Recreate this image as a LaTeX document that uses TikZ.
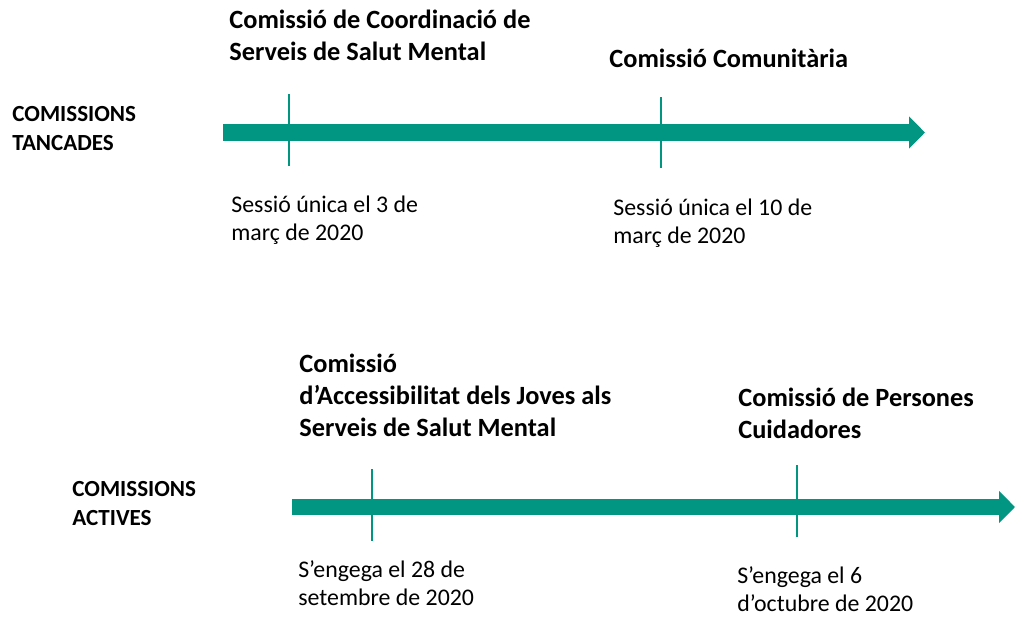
\documentclass[tikz,border=0pt]{standalone}
\usepackage{fontspec}
\setmainfont{Carlito}
\usetikzlibrary{arrows.meta}
\definecolor{verd}{RGB}{0,150,130}

\begin{document}
\begin{tikzpicture}[x=0.52pt,y=-0.52pt,
		titol/.style={anchor=base west,inner sep=0pt,align=left,font=\fontsize{13.7}{16.6}\selectfont\bfseries},
		grup/.style={anchor=base west,inner sep=0pt,align=left,font=\fontsize{12}{14.6}\selectfont\bfseries},
		data/.style={anchor=base west,inner sep=0pt,align=left,font=\fontsize{12.4}{14.2}\selectfont},
		eix/.style={verd,line width=8.8pt,-{Triangle[length=8.3pt,width=16.2pt]}},
		marca/.style={verd,line width=1.1pt}]
		\useasboundingbox (0,0) rectangle (1019,616);
		% tancades
		\node[grup] (tancades) at (12,150) {COMISSIONS\\TANCADES};
		\node[titol] (coordinacio) at (229,60) {Comissió de Coordinació de\\Serveis de Salut Mental};
		\node[titol] (comunitaria) at (609,67) {Comissió Comunitària};
		\node[data] (sessio1) at (231,240) {Sessió única el 3 de\\març de 2020};
		\node[data] (sessio2) at (613,243) {Sessió única el 10 de\\març de 2020};
		\coordinate (inici1) at (223,132.5);
		\coordinate (fi1) at (925,132.5);
		\coordinate (m1a) at (289,94);
		\coordinate (m1b) at (289,166);
		\coordinate (m2a) at (661,97);
		\coordinate (m2b) at (661,168);
		\draw[eix] (inici1) -- (fi1);
		\draw[marca] (m1a) -- (m1b);
		\draw[marca] (m2a) -- (m2b);
		% actives
		\node[grup] (actives) at (72,525) {COMISSIONS\\ACTIVES};
		\node[titol] (joves) at (299,436) {Comissió\\d’Accessibilitat dels Joves als\\Serveis de Salut Mental};
		\node[titol] (cuidadores) at (738,438) {Comissió de Persones\\Cuidadores};
		\node[data] (engega1) at (298,605) {S’engega el 28 de\\setembre de 2020};
		\node[data] (engega2) at (737,611) {S’engega el 6\\d’octubre de 2020};
		\coordinate (inici2) at (292,507);
		\coordinate (fi2) at (1015,507);
		\coordinate (m3a) at (372,469);
		\coordinate (m3b) at (372,541);
		\coordinate (m4a) at (797,465);
		\coordinate (m4b) at (797,537);
		\draw[eix] (inici2) -- (fi2);
		\draw[marca] (m3a) -- (m3b);
		\draw[marca] (m4a) -- (m4b);
	\end{tikzpicture}
\end{document}
